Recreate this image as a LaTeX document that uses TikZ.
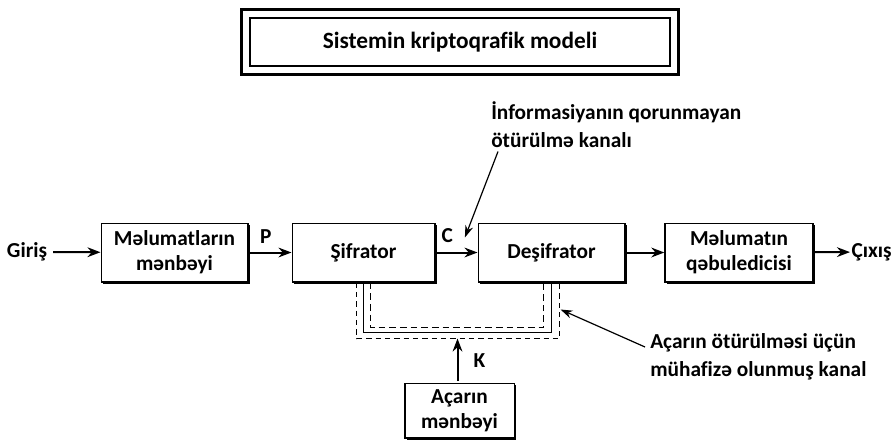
\documentclass[tikz,border=0pt]{standalone}
\usepackage{fontspec}
\setmainfont{Carlito}[Ligatures=NoCommon]
\usepackage{tikz}
\usetikzlibrary{arrows.meta,positioning,calc,shadows}

\begin{document}
\begin{tikzpicture}[x=0.75pt, y=-0.75pt, font=\bfseries\fontsize{16}{19}\selectfont, >=Stealth,
  blok/.style={draw, line width=1pt, minimum height=44pt, inner sep=0pt, align=center, fill=white,
    drop shadow={shadow xshift=1.6pt, shadow yshift=-1.6pt, fill=black, opacity=1}},
  flow/.style={->, line width=1.5pt, shorten <=1pt},
  pointer/.style={-{Stealth[length=9pt,width=6pt]}, line width=0.9pt},
  note/.style={anchor=north west, align=left, inner sep=0pt, font=\bfseries\fontsize{16}{21}\selectfont}]
\useasboundingbox (0,0) rectangle (896,440);
% title
\node[draw, line width=1pt, minimum width=315pt, minimum height=36pt, font=\bfseries\fontsize{17.5}{21}\selectfont] (title) at (460,42) {Sistemin kriptoqrafik modeli};
\draw[line width=2.6pt] ([shift={(-6pt,6pt)}]title.north west) rectangle ([shift={(6pt,-6pt)}]title.south east);
% main chain
\node (in) at (27,252) {Giriş};
\node[blok, minimum width=110pt] (src) at (174.5,252.5) {Məlumatların\\mənbəyi};
\node[blok, minimum width=107pt] (sifr) at (363.5,252.5) {Şifrator};
\node[blok, minimum width=110pt] (desif) at (551.5,252.5) {Deşifrator};
\node[blok, minimum width=111pt] (recv) at (739,252.5) {Məlumatın\\qəbuledicisi};
\node[anchor=west, inner sep=1pt] (out) at (850,252) {Çıxış};
\draw[flow] (in) -- (src);
\draw[flow] (src) -- (sifr) node[pos=0.4, above=3pt] {P};
\draw[flow] (sifr) -- (desif) node[pos=0.28, above=3pt] {C};
\draw[flow] (desif) -- (recv);
\draw[flow] (recv) -- (out);
% open channel
\node[note] (info) at (491,101) {İnformasiyanın qorunmayan\\ötürülmə kanalı};
\coordinate (cpt) at ($(sifr.east)!0.7!(desif.west)+(0,-15)$);
\draw[pointer] ([shift={(7,4)}]info.south west) -- (cpt);
% protected key channel
\coordinate (chan) at ($(sifr.south)!0.5!(desif.south)+(0,56)$);
\draw[line width=0.8pt] (sifr.south) -- ++(0,50) -| (desif.south);
\draw[line width=0.8pt, dashed, dash pattern=on 5pt off 3pt] ([xshift=5]sifr.south) |- ($(chan)+(0,-11)$) -| ([xshift=-6]desif.south);
\draw[line width=0.6pt, dashed, dash pattern=on 4pt off 3pt] ([xshift=-5]sifr.south) |- (chan) -| ([xshift=6]desif.south);
\node[blok, minimum width=82pt, minimum height=41pt] (key) at ($(chan)+(2,72)$) {Açarın\\mənbəyi};
\draw[flow] (key.north -| chan) -- (chan) node[midway, right=8pt] {K};
\node[note] (prot) at (650,333) {Açarın ötürülməsi üçün\\mühafizə olunmuş kanal};
\draw[pointer] ([shift={(-5,14)}]prot.north west) -- ($(desif.south)+(9,27)$);
\end{tikzpicture}
\end{document}
